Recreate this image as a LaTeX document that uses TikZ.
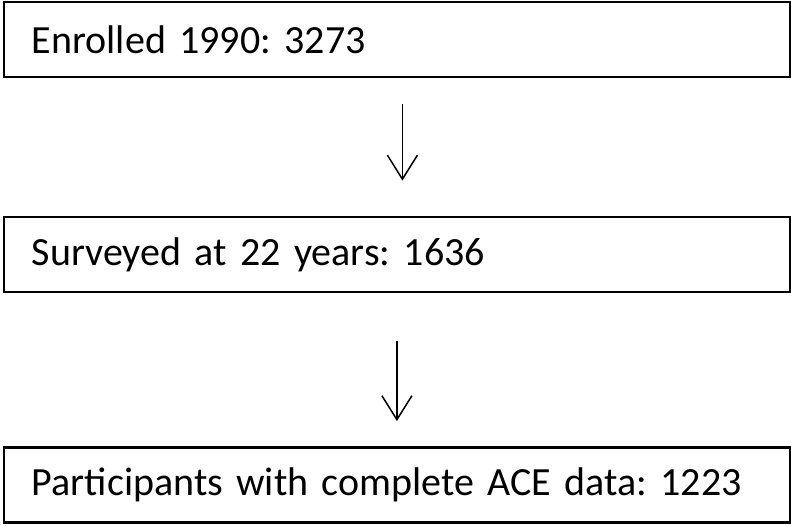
\documentclass[tikz,border=0pt]{standalone}
\usepackage{fontspec}
\setmainfont[WordSpace=0.75]{Carlito}
\usepackage{tikz}
\usetikzlibrary{arrows.meta, positioning}
\frenchspacing

\begin{document}
\begin{tikzpicture}[x=1pt, y=-1pt,
  box/.style={draw, line width=2.8pt, minimum height=75pt, minimum width=786pt,
              text width=730pt, inner xsep=28pt, align=left,
              font=\fontsize{40}{48}\selectfont},
  arrow/.style={-{Straight Barb[length=24pt, width=30pt]}, line width=1.5pt},
]
\useasboundingbox (0,0) rectangle (791,526);

% Boxes
\node[box, anchor=west] (enr) at (2.5, 39.5) {Enrolled 1990: 3273};
\node[box, anchor=west] (surv) at (2.5, 254.5) {Surveyed at 22 years: 1636};
\node[box, anchor=west] (ace) at (2.5, 485) {Participants with complete ACE data: 1223};

% Arrows
\draw[arrow, shorten <=26pt, shorten >=35pt] ([xshift=5.5pt]enr.south) -- ([xshift=5.5pt]surv.north);
\draw[arrow, shorten <=48pt, shorten >=25pt] (surv.south) -- (ace.north);

\end{tikzpicture}
\end{document}
